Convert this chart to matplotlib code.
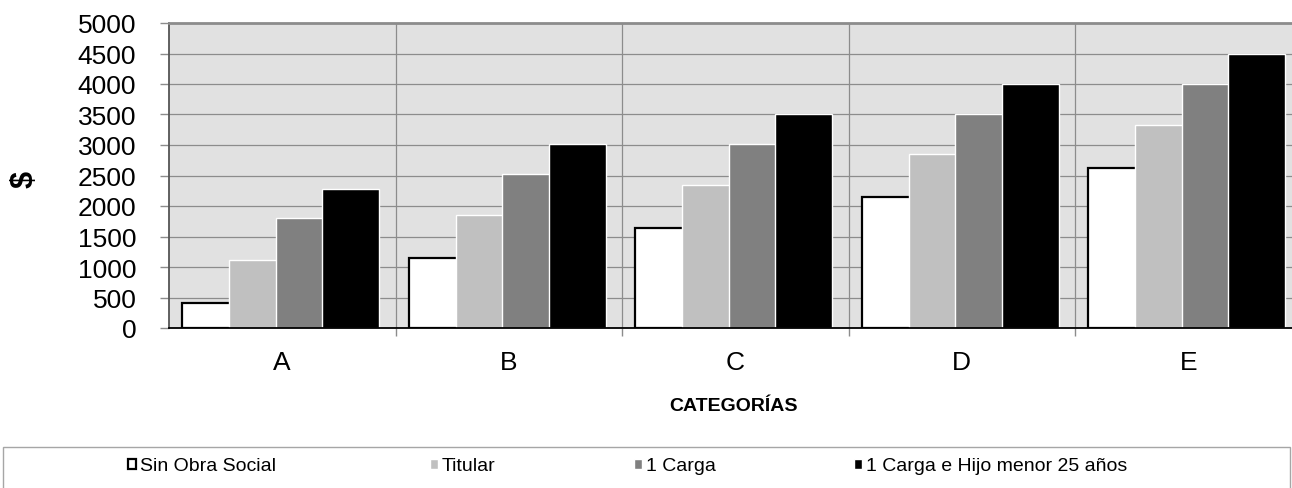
import numpy as np
import matplotlib.pyplot as plt
from matplotlib.patches import Rectangle

plt.rcParams['font.family'] = ['Liberation Sans', 'DejaVu Sans']

# data
categorias = ['A', 'B', 'C', 'D', 'E']
series = ['Sin Obra Social', 'Titular', '1 Carga', '1 Carga e Hijo menor 25 años']
sin_obra_social = [410, 1150, 1645, 2140, 2625]
titular = [1115, 1860, 2350, 2845, 3335]
una_carga = [1800, 2530, 3020, 3510, 4005]
carga_hijo = [2275, 3020, 3510, 4005, 4500]
yticks = list(range(0, 5001, 500))

valores = [sin_obra_social, titular, una_carga, carga_hijo]
colores = ['#ffffff', '#c0c0c0', '#808080', '#000000']
bordes = ['#000000', '#ffffff', '#ffffff', '#ffffff']
anchos_borde = [1.6, 1.0, 1.0, 1.0]

W, H = 1292, 489
fig = plt.figure(figsize=(W / 100, H / 100), dpi=100)
# plot area runs past the right edge of the picture, like the original
ax = fig.add_axes([169 / W, 1 - 329 / H, (1301.5 - 169) / W, (329 - 24) / H])
ax.set_facecolor('#e1e1e1')

x = np.arange(len(categorias))
ancho = 0.2517
paso = 0.2062
inicio = -0.441
barras = []
for i, (vals, c, b, lw) in enumerate(zip(valores, colores, bordes, anchos_borde)):
    barras.append(ax.bar(x + inicio + i * paso, vals, width=ancho, align='edge', color=c,
                         edgecolor=b, linewidth=lw, label=series[i], zorder=3 + i))

ax.set_xlim(-0.5, len(categorias) - 0.5)
ax.set_ylim(0, 5000)
ax.set_yticks(yticks)
ax.tick_params(axis='y', labelsize=19, length=6.5, color='#8c8c8c', pad=17, width=1)
ax.set_xticks(x)
ax.set_xticklabels(categorias)
ax.tick_params(axis='x', which='major', labelsize=19, length=0, pad=16)
ax.set_xticks(x[:-1] + 0.5, minor=True)
ax.tick_params(axis='x', which='minor', length=5.5, color='#8c8c8c', width=1)
ax.grid(axis='y', which='major', color='#8c8c8c', linewidth=0.9, zorder=1)
ax.grid(axis='x', which='minor', color='#8c8c8c', linewidth=0.9, zorder=1)
ax.grid(axis='x', which='major', visible=False)
ax.set_axisbelow(True)

ax.spines['top'].set_color('#8c8c8c')
ax.spines['top'].set_linewidth(2)
ax.spines['right'].set_visible(False)
ax.spines['left'].set_color('#555555')
ax.spines['left'].set_linewidth(1.3)
ax.spines['bottom'].set_color('#000000')
ax.spines['bottom'].set_linewidth(1.3)
ax.spines['bottom'].set_zorder(10)

fig.text(25 / W, 1 - 179 / H, '$', rotation=90, fontsize=22, fontweight='bold',
         ha='center', va='center')
fig.text(733 / W, 1 - 407 / H, 'CATEGORÍAS', fontsize=14, fontweight='bold',
         ha='center', va='center')

# legend box (its bottom is cut off by the picture edge)
fig.patches.append(Rectangle((3 / W, -0.2), (1290 - 3) / W, 0.2 + 1 - 448 / H,
                             transform=fig.transFigure, facecolor='none',
                             edgecolor='#a6a6a6', linewidth=1))
# one legend per entry so each sits where it does in the original
pos_leyenda = [128, 430, 634, 854]
for b, nombre, px in zip(barras, series, pos_leyenda):
    fig.legend([b], [nombre], loc='center left', bbox_to_anchor=(px / W, 1 - 467 / H),
               frameon=False, fontsize=14, handlelength=0.42, handleheight=0.42,
               handletextpad=0.18, borderpad=0, borderaxespad=0)

fig.savefig('out.png', dpi=100)
plt.close(fig)
